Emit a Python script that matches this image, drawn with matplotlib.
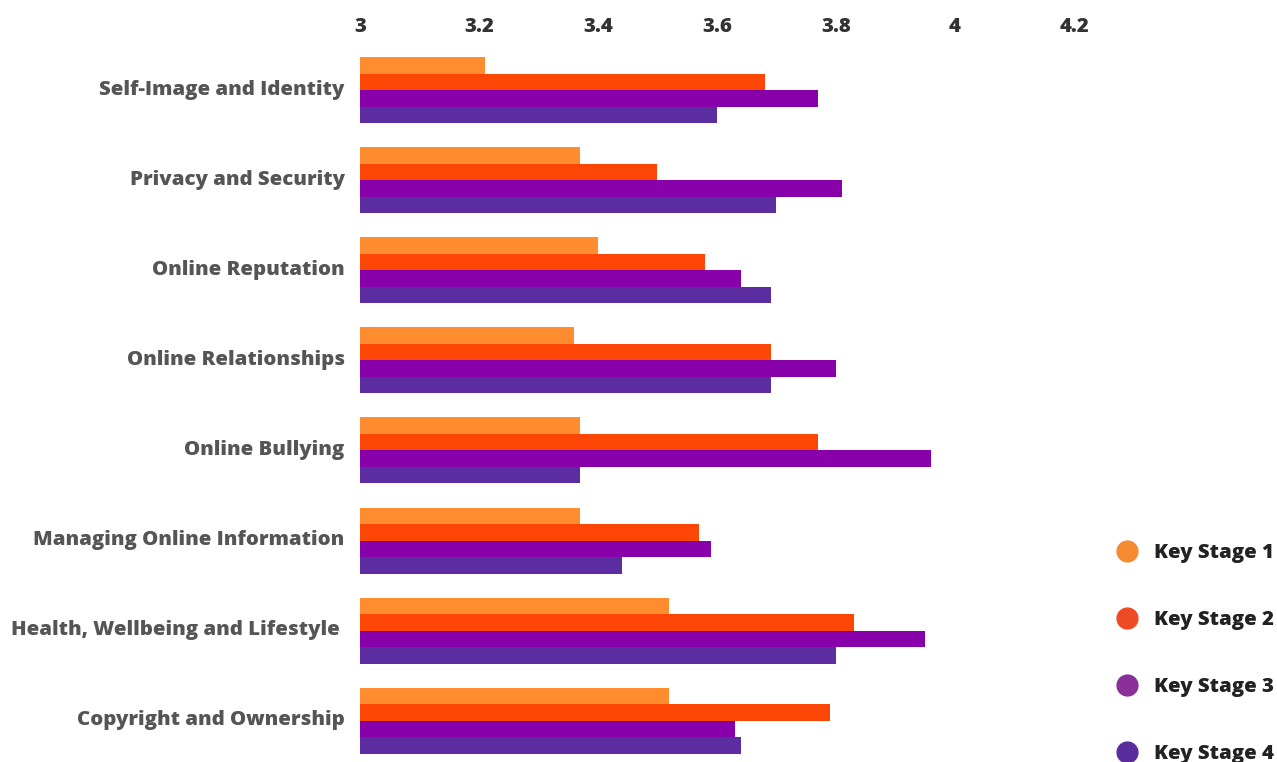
import matplotlib.pyplot as plt
import matplotlib.transforms as mtransforms
import numpy as np
from matplotlib.lines import Line2D

plt.rcParams['font.family'] = ['Open Sans', 'DejaVu Sans']
plt.rcParams['font.weight'] = 'heavy'

topics = [
    'Self-Image and Identity',
    'Privacy and Security',
    'Online Reputation',
    'Online Relationships',
    'Online Bullying',
    'Managing Online Information',
    'Health, Wellbeing and Lifestyle ',
    'Copyright and Ownership',
]
stages = ['Key Stage 1', 'Key Stage 2', 'Key Stage 3', 'Key Stage 4']

ks1 = [3.21, 3.37, 3.40, 3.36, 3.37, 3.37, 3.52, 3.52]
ks2 = [3.68, 3.50, 3.58, 3.69, 3.77, 3.57, 3.83, 3.79]
ks3 = [3.77, 3.81, 3.64, 3.80, 3.96, 3.59, 3.95, 3.63]
ks4 = [3.60, 3.70, 3.69, 3.69, 3.37, 3.44, 3.80, 3.64]

bar_colors = ['#FF8C2E', '#FC4605', '#8800AA', '#5B2DA0']
dot_colors = ['#F78B32', '#EE4B24', '#8A2E98', '#5A2D9E']

W, H = 1277, 762
fig = plt.figure(figsize=(W / 100, H / 100), dpi=100)
# axes spans x = 3 .. 4.25, top edge a little under the tick labels
ax = fig.add_axes([360 / W, 0, (1.25 * 595) / W, (H - 45) / H])

y = np.arange(len(topics))
h = 0.183
base = 3.0
for k, vals in enumerate([ks1, ks2, ks3, ks4]):
    vals = np.array(vals)
    ax.barh(y + (k - 1.5) * h, vals - base, left=base, height=h,
            color=bar_colors[k], linewidth=0)

ax.set_xlim(3, 4.25)
ax.set_ylim(7.458, -0.5)
ax.set_xticks([3, 3.2, 3.4, 3.6, 3.8, 4, 4.2])
ax.set_xticklabels(['3', '3.2', '3.4', '3.6', '3.8', '4', '4.2'])
ax.xaxis.tick_top()
ax.tick_params(axis='x', length=0, pad=6, labelsize=14.7, labelcolor='#333333')
ax.set_yticks(y)
ax.set_yticklabels(topics)
ax.tick_params(axis='y', length=0, pad=11, labelsize=14.7, labelcolor='#555555')
# category names sit a few pixels above the middle of their bar group
lift = mtransforms.ScaledTranslation(0, 2 / 72, fig.dpi_scale_trans)
for lbl in ax.get_yticklabels():
    lbl.set_transform(lbl.get_transform() + lift)
for s in ax.spines.values():
    s.set_visible(False)

handles = [Line2D([], [], marker='o', linestyle='none', markersize=15,
                  markerfacecolor=c, markeredgecolor=c) for c in dot_colors]
fig.legend(handles, stages, loc='upper left', bbox_to_anchor=(1096 / W, 1 - 533 / H),
           frameon=False, fontsize=14.7, labelspacing=2.3, handletextpad=0.35,
           labelcolor='#222222', borderpad=0)

fig.savefig('out.png', dpi=100)
